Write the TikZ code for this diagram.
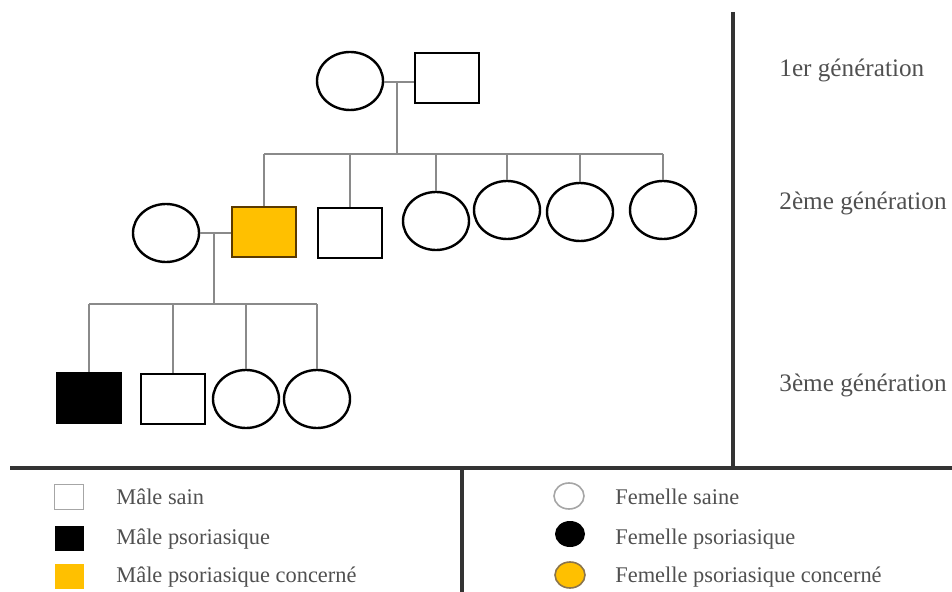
\documentclass[tikz,border=0pt]{standalone}
\usepackage{fontspec}
\setmainfont{Liberation Serif}
\usetikzlibrary{shapes.geometric}
\definecolor{gold}{HTML}{FFC000}
\definecolor{goldedge}{HTML}{5A3A00}
\definecolor{linkgray}{HTML}{8A8A8A}
\definecolor{rulegray}{HTML}{333333}
\definecolor{textgray}{HTML}{505050}
\tikzset{
  male/.style={rectangle, draw=black, line width=1.2pt, fill=white, inner sep=0pt,
    minimum width=32pt, minimum height=25pt},
  female/.style={ellipse, draw=black, line width=1.2pt, fill=white, inner sep=0pt,
    minimum width=33pt, minimum height=29pt},
  affected/.style={fill=gold, draw=goldedge},
  sick/.style={fill=black},
  link/.style={draw=linkgray, line width=0.9pt},
  divider/.style={draw=rulegray, line width=2pt},
  genlabel/.style={anchor=west, text=textgray, font=\fontsize{12.6}{14}\selectfont, inner sep=0pt},
  keylabel/.style={anchor=west, text=textgray, font=\fontsize{11.2}{13}\selectfont, inner sep=0pt},
  keymale/.style={rectangle, inner sep=0pt, minimum width=14.5pt, minimum height=12.5pt},
  keyfemale/.style={ellipse, inner sep=0pt, minimum width=15pt, minimum height=13pt}
}
\begin{document}
\begin{tikzpicture}[x=0.5pt, y=-0.5pt]
\useasboundingbox (0,0) rectangle (952,592);

% frame lines
\coordinate (vtop) at (733,12);
\coordinate (hleft) at (10,468);
\coordinate (hright) at (952,468);
\coordinate (vbot) at (462,592);
\draw[divider] (vtop) -- (vtop |- hleft);
\draw[divider] (hleft) -- (hright);
\draw[divider] (vbot |- hleft) -- (vbot);

% generation 1
\node[female] (g1f) at (350,81) {};
\node[male] (g1m) at (447,78) {};
\coordinate (d1) at (397,82);
\coordinate (s1) at (397,154);
\draw[link] (g1f.east |- d1) -- (g1m.west |- d1);
\draw[link] (d1) -- (s1);

% generation 2
\node[male, affected] (g2m1) at (264,232) {};
\node[male] (g2m2) at (350,233) {};
\node[female] (g2f1) at (436,221) {};
\node[female] (g2f2) at (507,210) {};
\node[female] (g2f3) at (580,212) {};
\node[female] (g2f4) at (663,210) {};
\node[female] (g2w) at (166,233) {};
\draw[link] (g2m1.north |- s1) -- (g2f4.north |- s1);
\foreach \c in {g2m1,g2m2,g2f1,g2f2,g2f3,g2f4}
  \draw[link] (\c.north) -- (\c.north |- s1);
\coordinate (d2) at (214,233);
\coordinate (s2) at (214,304);
\draw[link] (g2w.east |- d2) -- (g2m1.west |- d2);
\draw[link] (d2) -- (s2);

% generation 3
\node[male, sick] (g3m1) at (89,398) {};
\node[male] (g3m2) at (173,399) {};
\node[female] (g3f1) at (246,399) {};
\node[female] (g3f2) at (317,399) {};
\draw[link] (g3m1.north |- s2) -- (g3f2.north |- s2);
\foreach \c in {g3m1,g3m2,g3f1,g3f2}
  \draw[link] (\c.north) -- (\c.north |- s2);

% generation labels
\node[genlabel] (lab1) at (779,70) {1er génération};
\node[genlabel] (lab2) at (779,203) {2ème génération};
\node[genlabel] (lab3) at (779,385) {3ème génération};

% key: males
\node[keymale, draw=gray!70, line width=0.8pt, fill=white] (km1) at (69,497) {};
\node[keymale, fill=black] (km2) at (69,538) {};
\node[keymale, fill=gold] (km3) at (69,576) {};
\node[keylabel] (kt1) at (116,497) {Mâle sain};
\node[keylabel] (kt2) at (116,539) {Mâle psoriasique};
\node[keylabel] (kt3) at (116,577) {Mâle psoriasique concerné};

% key: females
\node[keyfemale, draw=gray!70, line width=0.8pt, fill=white] (kf1) at (569,496) {};
\node[keyfemale, fill=black] (kf2) at (570,534) {};
\node[keyfemale, fill=gold, draw=goldedge!70, line width=0.8pt] (kf3) at (570,575) {};
\node[keylabel] (kt4) at (615,497) {Femelle saine};
\node[keylabel] (kt5) at (615,539) {Femelle psoriasique};
\node[keylabel] (kt6) at (615,577) {Femelle psoriasique concerné};
\end{tikzpicture}
\end{document}
